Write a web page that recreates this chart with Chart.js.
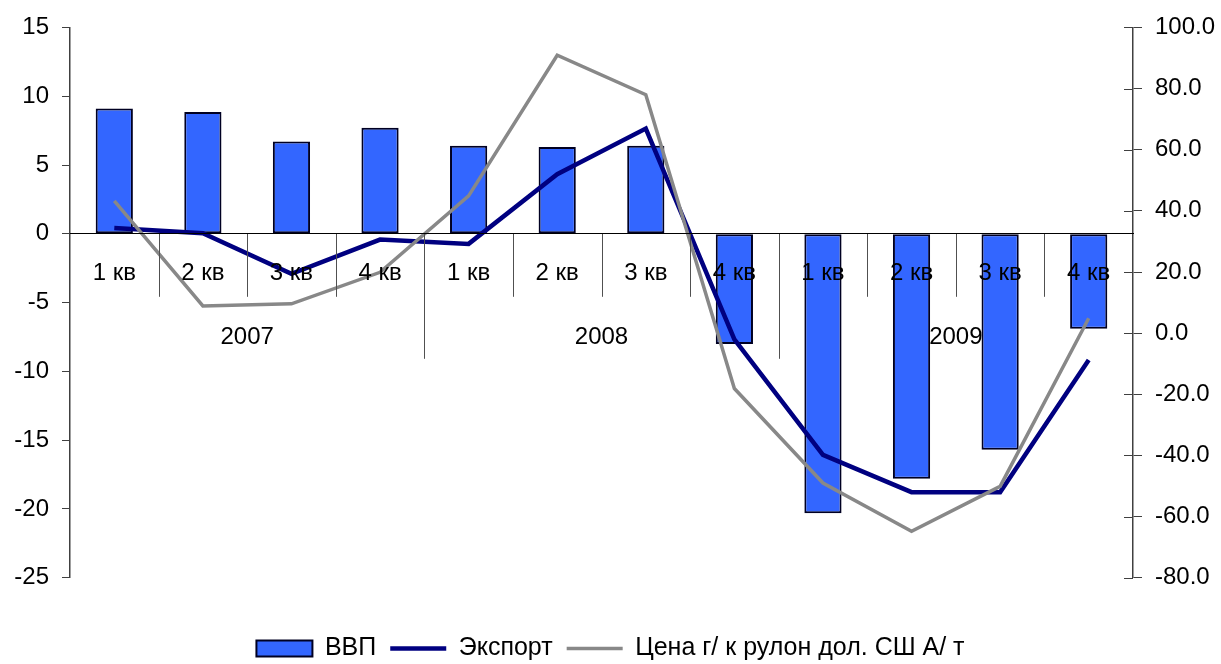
<!DOCTYPE html>
<html>
<head>
<meta charset="utf-8">
<script src="https://cdn.jsdelivr.net/npm/chart.js@4"></script>
<style>
  html, body { margin: 0; padding: 0; background: #fff; }
</style>
</head>
<body>
<canvas id="grafica" width="1221" height="664"></canvas>
<script>
// данные
const kvartaly = ['1 кв', '2 кв', '3 кв', '4 кв', '1 кв', '2 кв', '3 кв', '4 кв', '1 кв', '2 кв', '3 кв', '4 кв']
const gody = ['2007', '2008', '2009']
const vvp = [9.1, 8.85, 6.7, 7.7, 6.4, 6.3, 6.4, -8.0, -20.3, -17.8, -15.7, -6.9]
const eksport = [34.4, 32.7, 19.4, 30.6, 29.2, 52.0, 66.9, -2.0, -39.8, -52.0, -52.0, -8.8]
const cena = [43.3, 8.9, 9.6, 19.9, 44.9, 90.9, 78.0, -18.1, -49.0, -64.8, -50.1, 4.9]

const shrift = '"Liberation Sans", Arial, sans-serif'
const osi = '#404040'

// годы и разделители под нулевой линией
const gruppy = {
    id: 'gruppy',
    afterDatasetsDraw(chart) {
        const ctx = chart.ctx
        const x = chart.scales.x
        const y = chart.scales.y
        const y1 = chart.scales.y1
        const nol = y.getPixelForValue(0)
        ctx.save()
        ctx.strokeStyle = '#505050'
        ctx.lineWidth = 1
        for (let i = 0; i < kvartaly.length - 1; i++) {
            const xp = Math.round((x.getPixelForValue(i) + x.getPixelForValue(i + 1)) / 2) + 0.5
            const dlinnaya = (i + 1) % 4 === 0
            ctx.beginPath()
            ctx.moveTo(xp, nol)
            ctx.lineTo(xp, nol + (dlinnaya ? 125 : 63))
            ctx.stroke()
        }
        ctx.fillStyle = '#000'
        ctx.font = '24px ' + shrift
        ctx.textAlign = 'center'
        ctx.textBaseline = 'middle'
        gody.forEach((g, k) => {
            const xc = (x.getPixelForValue(k * 4) + x.getPixelForValue(k * 4 + 3)) / 2
            ctx.fillText(g, xc, nol + 104)
        })
        // внутренние засечки правой оси
        ctx.strokeStyle = osi
        const xr = chart.chartArea.right
        y1.ticks.forEach(t => {
            const yp = Math.round(y1.getPixelForValue(t.value)) + 0.5
            ctx.beginPath()
            ctx.moveTo(xr - 9, yp)
            ctx.lineTo(xr, yp)
            ctx.stroke()
        })
        ctx.restore()
    }
}

new Chart(document.querySelector('#grafica'), {
    data: {
        labels: kvartaly,
        datasets: [{
            type: 'bar',
            label: 'ВВП',
            data: vvp,
            yAxisID: 'y',
            backgroundColor: '#3366FF',
            borderColor: '#000022',
            borderWidth: 2,
            borderSkipped: false,
            categoryPercentage: 1,
            barPercentage: 0.42,
            order: 3
        }, {
            type: 'line',
            label: 'Экспорт',
            data: eksport,
            yAxisID: 'y1',
            borderColor: '#000080',
            backgroundColor: '#000080',
            borderWidth: 4.5,
            pointRadius: 0,
            tension: 0,
            order: 2
        }, {
            type: 'line',
            label: 'Цена г/ к рулон дол. СШ А/ т',
            data: cena,
            yAxisID: 'y1',
            borderColor: '#888888',
            backgroundColor: '#888888',
            borderWidth: 3.5,
            pointRadius: 0,
            tension: 0,
            order: 1
        }]
    },
    options: {
        responsive: false,
        animation: false,
        layout: { padding: { top: 24, left: 0, right: 0, bottom: -7 } },
        scales: {
            x: {
                type: 'category',
                position: { y: 0 },
                offset: true,
                grid: { display: false, drawTicks: false },
                border: { display: true, color: '#000', width: 1, z: 1 },
                ticks: { z: 1, color: '#000', font: { family: shrift, size: 24 }, padding: 25, maxRotation: 0, autoSkip: false }
            },
            y: {
                position: 'left',
                min: -25,
                max: 15,
                ticks: { stepSize: 5, color: '#000', font: { family: shrift, size: 24 }, padding: 13 },
                grid: { drawOnChartArea: false, drawTicks: true, tickLength: 8, color: osi },
                border: { display: true, color: osi, width: 1.5 },
                afterFit: s => { s.width = 70 }
            },
            y1: {
                position: 'right',
                min: -80,
                max: 100,
                ticks: { stepSize: 20, color: '#000', font: { family: shrift, size: 24 }, padding: 13, callback: v => v.toFixed(1) },
                grid: { drawOnChartArea: false, drawTicks: true, tickLength: 9, color: osi },
                border: { display: true, color: osi, width: 1.5 },
                afterFit: s => { s.width = 88 }
            }
        },
        plugins: {
            tooltip: { enabled: false },
            legend: {
                position: 'bottom',
                title: { display: true, text: '', font: { size: 1 }, padding: { top: 0, bottom: 43 } },
                labels: {
                    color: '#000',
                    font: { family: shrift, size: 25 },
                    usePointStyle: true,
                    pointStyleWidth: 56,
                    boxHeight: 16,
                    padding: 14,
                    sort: (a, b) => a.datasetIndex - b.datasetIndex,
                    generateLabels: chart => Chart.defaults.plugins.legend.labels.generateLabels(chart).map(it => {
                        const ds = chart.data.datasets[it.datasetIndex]
                        it.pointStyle = ds.type === 'line' ? 'line' : 'rect'
                        it.fillStyle = ds.backgroundColor
                        it.strokeStyle = ds.borderColor
                        it.lineWidth = ds.type === 'line' ? ds.borderWidth : 2
                        return it
                    })
                }
            }
        }
    },
    plugins: [gruppy]
})
</script>
</body>
</html>
